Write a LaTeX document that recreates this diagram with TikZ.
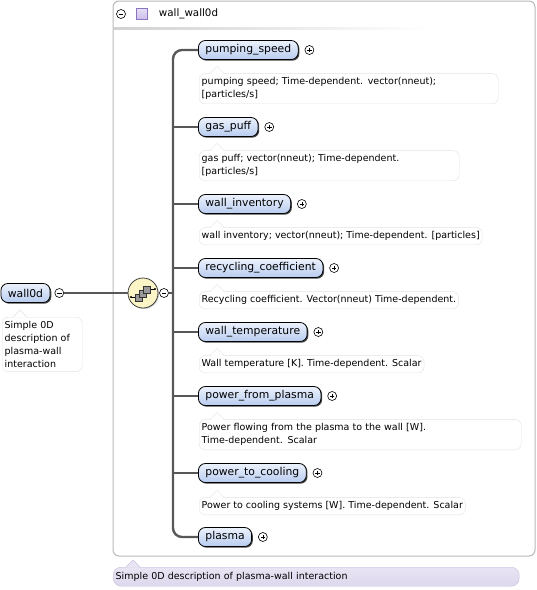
\documentclass[tikz,border=0pt]{standalone}
\usepackage{fontspec}
\setmainfont{DejaVu Sans}
\usetikzlibrary{positioning, shadows, calc}
\definecolor{elemtop}{RGB}{236,242,252}
\definecolor{elembot}{RGB}{184,204,240}
\definecolor{seqfill}{RGB}{251,244,198}
\definecolor{spinegray}{RGB}{88,88,88}
\definecolor{framegray}{RGB}{184,184,184}
\definecolor{annoline}{RGB}{226,226,226}
\definecolor{lilac}{RGB}{233,229,244}
\definecolor{lilacdark}{RGB}{220,215,236}
\definecolor{lilacline}{RGB}{196,192,218}
\definecolor{boxpurple}{RGB}{204,190,236}
\definecolor{boxedge}{RGB}{140,116,190}
\tikzset{
  elem/.style={rectangle, rounded corners=7pt, draw=black, line width=0.8pt,
    top color=elemtop, bottom color=elembot, minimum height=19pt,
    inner xsep=7pt, inner ysep=0pt, font=\fontsize{10.8}{13}\selectfont,
    drop shadow={shadow xshift=1.2pt, shadow yshift=-1.2pt, opacity=0.85, fill=black!85}},
  anno/.style={rectangle, rounded corners=6pt, draw=annoline, fill=white,
    align=left, inner xsep=2.5pt, inner ysep=4pt, font=\fontsize{9.5}{13}\selectfont},
  plusbox/.style={circle, draw=black, fill=white, line width=0.6pt,
    minimum size=9pt, inner sep=0pt,
    path picture={\draw[line width=0.6pt] ([xshift=2.2pt]path picture bounding box.west) -- ([xshift=-2.2pt]path picture bounding box.east);
      \draw[line width=0.6pt] ([yshift=-2.2pt]path picture bounding box.north) -- ([yshift=2.2pt]path picture bounding box.south);}},
  minusbox/.style={circle, draw=black, fill=white, line width=0.6pt,
    minimum size=9pt, inner sep=0pt,
    path picture={\draw[line width=0.6pt] ([xshift=2.2pt]path picture bounding box.west) -- ([xshift=-2.2pt]path picture bounding box.east);}},
  spine/.style={line width=2.4pt, color=spinegray},
  wire/.style={line width=1.6pt, color=spinegray}
}
% little pointer on top of a note
\newcommand{\annonotch}[2]{%
  \fill[white] ($(#1.north west)+(#2-7,0.6)$) -- ++(7,-7) -- ++(7,7) -- cycle;
  \draw[annoline] ($(#1.north west)+(#2-7,0)$) -- ++(7,-7) -- ++(7,7);}

\begin{document}
\begin{tikzpicture}[x=1pt, y=-1pt]
    \useasboundingbox (0,0) rectangle (537,590);

    % Frame of the complex type
    \draw[framegray, line width=1pt, rounded corners=6pt] (113,1) -- (535,1) -- (535,556) -- (113,556) -- cycle;
    \shade[left color=black!18, right color=white] (114,27.5) rectangle (430,29);

    % Header
    \node[minusbox] (hdrminus) at (121,14) {};
    \node[rectangle, draw=boxedge, top color=boxpurple!50, bottom color=boxpurple, minimum size=11pt, inner sep=0pt] (hdrbox) at (142,14) {};
    \node[right=11pt of hdrbox, inner sep=0pt, font=\fontsize{10.3}{12}\selectfont] (hdrtext) {wall\_wall0d};

    % Root element
    \node[elem] (wall) at (25.5,293) {wall0d};
    \node[minusbox, right=4pt of wall] (wallminus) {};
    \node[anno, anchor=north west, text width=75pt] (wallnote) at (2,317) {Simple 0D\\description of\\plasma-wall\\interaction};
    \annonotch{wallnote}{18}

    % Sequence compositor
    \node[circle, draw=black!75, fill=seqfill, minimum size=30pt, line width=0.8pt,
      drop shadow={shadow xshift=1pt, shadow yshift=-1pt, opacity=0.4}] (seq) at (143,293) {};
    \node[minusbox] (seqminus) at (164,293) {};
    \coordinate (join) at (173,293);
    \draw[wire] (wallminus) -- (seq);
    \draw[wire] (seqminus) -- (join);
    % sequence icon
    \draw[line width=0.6pt] (131,297) -- (137,297);
    \fill (131,297) circle (1.1);
    \draw[line width=0.6pt] (149,289) -- (155,289);
    \fill (155,289) circle (1.1);
    \foreach \k in {0,1,2}
      \filldraw[fill=black!40, draw=black!80, line width=0.5pt] (135+4*\k,294-4*\k) rectangle ++(7,7);

    % Child elements
    \node[elem, anchor=west] (pumping) at (198,50) {pumping\_speed};
    \node[elem, anchor=west] (gaspuff) at (198,127) {gas\_puff};
    \node[elem, anchor=west] (inventory) at (198,204) {wall\_inventory};
    \node[elem, anchor=west] (recycling) at (198,268) {recycling\_coefficient};
    \node[elem, anchor=west] (temperature) at (198,332) {wall\_temperature};
    \node[elem, anchor=west] (fromplasma) at (198,396) {power\_from\_plasma};
    \node[elem, anchor=west] (tocooling) at (198,473) {power\_to\_cooling};
    \node[elem, anchor=west] (plasma) at (198,537) {plasma};

    \foreach \e in {pumping, gaspuff, inventory, recycling, temperature, fromplasma, tocooling, plasma}
      \node[plusbox, right=6pt of \e] (\e plus) {};

    % Spine and branches
    \draw[spine, rounded corners=9pt] (pumping.west) -- ++(-25,0) |- (plasma.west);
    \foreach \e in {gaspuff, inventory, recycling, temperature, fromplasma, tocooling}
      \draw[wire] (\e.west) -- ++(-25,0);

    % Notes
    \node[anno, text width=294pt, below right=13.5pt and 1pt of pumping.south west] (pumpingnote) {pumping speed; Time-dependent. vector(nneut);\\{}[particles/s]};
    \node[anno, text width=255pt, below right=13.5pt and 1pt of gaspuff.south west] (gaspuffnote) {gas puff; vector(nneut); Time-dependent.\\{}[particles/s]};
    \node[anno, below right=13.5pt and 1pt of inventory.south west] (inventorynote) {wall inventory; vector(nneut); Time-dependent. [particles]};
    \node[anno, below right=13.5pt and 1pt of recycling.south west] (recyclingnote) {Recycling coefficient. Vector(nneut) Time-dependent.};
    \node[anno, below right=13.5pt and 1pt of temperature.south west] (temperaturenote) {Wall temperature [K]. Time-dependent. Scalar};
    \node[anno, text width=317pt, below right=13.5pt and 1pt of fromplasma.south west] (fromplasmanote) {Power flowing from the plasma to the wall [W].\\Time-dependent. Scalar};
    \node[anno, below right=14.5pt and 1pt of tocooling.south west] (tocoolingnote) {Power to cooling systems [W]. Time-dependent. Scalar};
    \foreach \e in {pumping, gaspuff, inventory, recycling, temperature, fromplasma, tocooling}
      {\annonotch{\e note}{18}}

    % Note of the type
    \node[anno, anchor=north west, draw=lilacline, top color=lilac, bottom color=lilacdark,
      text width=401pt, minimum height=19pt, rounded corners=8pt, inner ysep=2pt] (typenote) at (113,567) {Simple 0D description of plasma-wall interaction};
    \fill[lilac] ($(typenote.north west)+(13,0.6)$) -- ++(7,-7) -- ++(7,7) -- cycle;
    \draw[lilacline] ($(typenote.north west)+(13,0)$) -- ++(7,-7) -- ++(7,7);
  \end{tikzpicture}
\end{document}
